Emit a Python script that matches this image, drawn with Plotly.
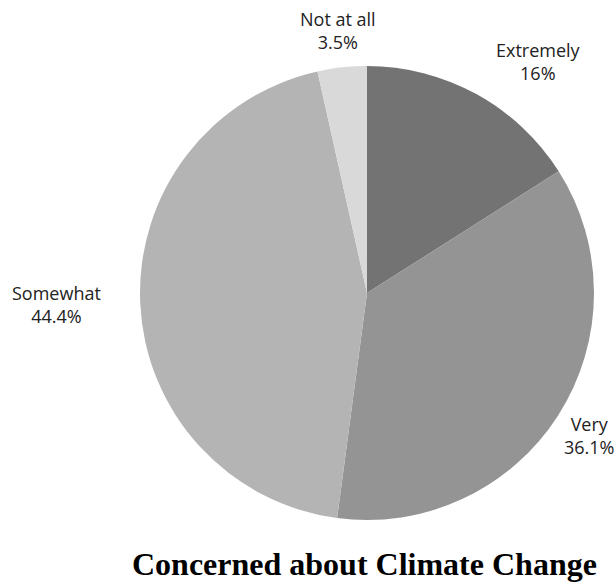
import math
import plotly.graph_objects as go

labels = ["Extremely", "Very", "Somewhat", "Not at all"]
values = [16, 36.1, 44.4, 3.5]
colors = ["#737373", "#949494", "#b4b4b4", "#d9d9d9"]
title_text = "Concerned about Climate Change"

W, H = 614, 582
cx, cy, r = 367, 293, 227
label_r = 264
label_anchor = ["left", "center", "right", "center"]

fig = go.Figure(go.Pie(
    labels=labels,
    values=values,
    sort=False,
    direction="clockwise",
    rotation=0,
    marker=dict(colors=colors, line=dict(width=0)),
    textinfo="none",
    showlegend=False,
    hoverinfo="label+value",
    domain=dict(x=[(cx - r) / W, (cx + r) / W], y=[(H - cy - r) / H, (H - cy + r) / H]),
    automargin=False,
))

annotations = []
total = sum(values)
cum = 0.0
for lab, val, anc in zip(labels, values, label_anchor):
    mid = (cum + val / 2) / total * 2 * math.pi
    cum += val
    px = cx + label_r * math.sin(mid)
    py = cy - label_r * math.cos(mid)
    annotations.append(dict(
        text=f"{lab}<br>{val:g}%",
        x=px / W, y=(H - py) / H, xref="paper", yref="paper",
        xanchor=anc, yanchor="middle", showarrow=False, align="center",
        font=dict(family="Open Sans", size=18, color="#222222"),
    ))

annotations.append(dict(
    text="<b>" + title_text + "</b>",
    x=364 / W, y=(H - 564) / H, xref="paper", yref="paper",
    xanchor="center", yanchor="middle", showarrow=False,
    font=dict(family="Liberation Serif", size=32, color="black"),
))

fig.update_layout(
    width=W, height=H,
    margin=dict(l=0, r=0, t=0, b=0),
    paper_bgcolor="white",
    plot_bgcolor="white",
    annotations=annotations,
)

fig.write_html("out.html")
